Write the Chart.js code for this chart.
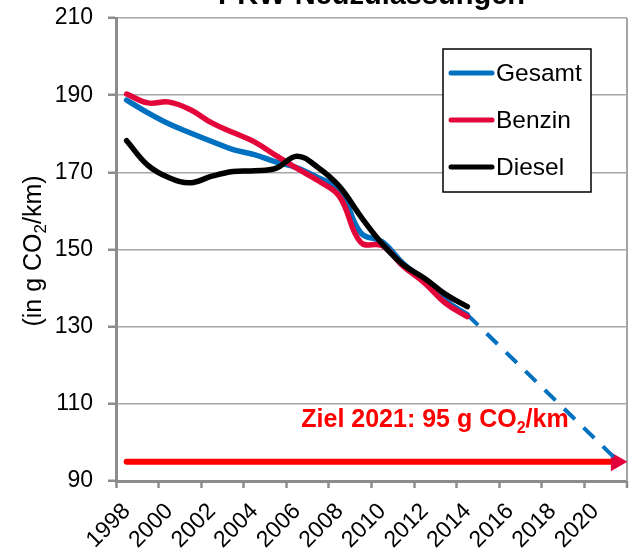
<!DOCTYPE html>
<html><head><meta charset="utf-8">
<script src="https://cdn.jsdelivr.net/npm/chart.js@4/dist/chart.umd.min.js"></script>
<style>html,body{margin:0;padding:0;background:#fff;} canvas{display:block;}</style>
</head><body>
<canvas id="c" width="638" height="549"></canvas>
<script>
// ---- data ----
const titleText = 'PKW-Neuzulassungen';
const yTitleParts = ['(in g CO', '2', '/km)'];
const annotationParts = ['Ziel 2021: 95 g CO', '2', '/km'];
const seriesLabels = ['Gesamt', 'Benzin', 'Diesel'];
const years = [1998,1999,2000,2001,2002,2003,2004,2005,2006,2007,2008,2009,2010,2011,2012,2013,2014];
const gesamt = [188.7,185.4,182.5,180.2,178.0,175.9,174.6,172.7,171.2,168.6,165.5,154.3,152.0,146.3,142.0,136.7,133.1];
const benzin = [190.3,188.0,188.2,186.2,182.8,180.3,177.9,174.4,171.0,167.8,163.7,151.8,151.0,145.6,141.3,136.0,132.6];
const diesel = [178.2,171.8,168.6,167.3,169.0,170.2,170.4,171.0,174.2,171.2,166.3,158.5,151.5,146.0,142.5,138.3,135.2];
const projYears = [2014, 2021.2];
const projValues = [133.1, 94.5];
const targetYears = [1998, 2021];
const targetValues = [95, 95];
const xTickLabels = ['1998','2000','2002','2004','2006','2008','2010','2012','2014','2016','2018','2020'];
const xMin = 1997.5, xMax = 2021.5;
const yMin = 90, yMax = 210, yStep = 20;
const annotationAt = {x: 2012.48, y: 104};

const FONT = '"Liberation Sans", Arial, sans-serif';
const BLUE = '#0070C0', RED = '#E3063B', BLACK = '#000000', TARGET = '#FF0000';
const AXIS = '#8C8C8C', GRID = '#A6A6A6';

const pts = (xs, ys) => xs.map((x, i) => ({x, y: ys[i]}));

function drawParts(ctx, parts, cx, cy, font, subFont, subDy) {
  ctx.font = font; const w0 = ctx.measureText(parts[0]).width; const w2 = ctx.measureText(parts[2]).width;
  ctx.font = subFont; const w1 = ctx.measureText(parts[1]).width;
  let x = cx - (w0 + w1 + w2) / 2;
  ctx.textAlign = 'left'; ctx.textBaseline = 'alphabetic';
  ctx.font = font; ctx.fillText(parts[0], x, cy); x += w0;
  ctx.font = subFont; ctx.fillText(parts[1], x, cy + subDy); x += w1;
  ctx.font = font; ctx.fillText(parts[2], x, cy);
}

const overlay = {
  id: 'overlay',
  beforeDatasetsDraw(chart) {
    const {ctx, chartArea: a, scales} = chart;
    ctx.save();
    ctx.strokeStyle = GRID; ctx.lineWidth = 2;
    ctx.beginPath(); ctx.moveTo(a.right, a.top); ctx.lineTo(a.right, a.bottom); ctx.stroke();
    // closing tick mark of the x axis at its maximum
    const xr = scales.x.getPixelForValue(xMax);
    ctx.strokeStyle = AXIS; ctx.lineWidth = 2.5;
    ctx.beginPath(); ctx.moveTo(xr, a.bottom); ctx.lineTo(xr, a.bottom + 7); ctx.stroke();
    ctx.restore();
  },
  afterDraw(chart) {
    const {ctx, chartArea: a, scales} = chart;
    ctx.save();
    // title
    ctx.fillStyle = '#000';
    ctx.font = 'bold 29px ' + FONT; ctx.textAlign = 'center'; ctx.textBaseline = 'alphabetic';
    ctx.fillText(titleText, (a.left + a.right) / 2, 4);
    // y title
    ctx.save();
    ctx.translate(33, 251); ctx.rotate(-Math.PI / 2);
    ctx.fillStyle = '#000';
    drawParts(ctx, yTitleParts, 0, 8, '25px ' + FONT, '17px ' + FONT, 5);
    ctx.restore();
    // annotation
    ctx.fillStyle = TARGET;
    drawParts(ctx, annotationParts, scales.x.getPixelForValue(annotationAt.x), scales.y.getPixelForValue(annotationAt.y),
      'bold 25px ' + FONT, 'bold 16px ' + FONT, 6);
    // legend
    const bx = a.right - 184, by = a.top + 31, bw = 148, bh = 143;
    ctx.fillStyle = '#fff'; ctx.fillRect(bx, by, bw, bh);
    ctx.strokeStyle = '#000'; ctx.lineWidth = 1.5; ctx.strokeRect(bx, by, bw, bh);
    ctx.font = '24.5px ' + FONT; ctx.textAlign = 'left'; ctx.textBaseline = 'middle';
    for (let i = 0; i < 3; i++) {
      const ds = chart.data.datasets[i];
      const ry = by + 24 + i * 47;
      ctx.strokeStyle = ds.borderColor; ctx.lineWidth = 5; ctx.lineCap = 'round';
      ctx.beginPath(); ctx.moveTo(bx + 8, ry); ctx.lineTo(bx + 49, ry); ctx.stroke();
      ctx.fillStyle = '#000'; ctx.fillText(ds.label, bx + 53, ry + 1);
    }
    ctx.restore();
  }
};

const lineDs = (label, ys, color, order) => ({
  label, data: pts(years, ys), borderColor: color, backgroundColor: color,
  borderWidth: 5.5, pointRadius: 0, tension: 0.4, order,
  borderCapStyle: 'round', borderJoinStyle: 'round', fill: false
});

new Chart(document.getElementById('c'), {
  type: 'line',
  data: {
    datasets: [
      lineDs(seriesLabels[0], gesamt, BLUE, 2),
      lineDs(seriesLabels[1], benzin, RED, 1),
      lineDs(seriesLabels[2], diesel, BLACK, 0),
      { label: 'Prognose', data: pts(projYears, projValues), borderColor: BLUE, borderWidth: 4,
        borderDash: [15, 12], pointRadius: 0, tension: 0, order: 3, fill: false },
      { label: 'Ziel', data: pts(targetYears, targetValues), borderColor: TARGET, borderWidth: 6,
        borderCapStyle: 'round', pointRadius: [0, 11], pointHoverRadius: 0, pointStyle: 'triangle', rotation: 90,
        pointBackgroundColor: '#E2003C', pointBorderWidth: 0, tension: 0, order: 4, fill: false }
    ]
  },
  options: {
    responsive: false, animation: false, devicePixelRatio: 1,
    layout: { padding: { top: 18, right: 4, left: 0, bottom: 0 } },
    plugins: { legend: { display: false }, tooltip: { enabled: false }, title: { display: false } },
    scales: {
      x: {
        type: 'linear', min: xMin, max: xMax,
        afterBuildTicks: (s) => { s.ticks = xTickLabels.map(l => ({value: +l - 0.5})); },
        afterFit: (s) => { s.height = 68; s.paddingLeft = 0; s.paddingRight = 0; s.paddingTop = 0; s.paddingBottom = 0; },
        grid: { drawOnChartArea: false, drawTicks: true, tickLength: 7, tickColor: AXIS, tickWidth: 2.5 },
        border: { display: true, color: AXIS, width: 3 },
        ticks: { autoSkip: false, minRotation: 45, maxRotation: 45, labelOffset: 10.8, padding: 10,
          color: '#000', font: { family: FONT, size: 23 },
          callback: (v, i) => xTickLabels[i] }
      },
      y: {
        min: yMin, max: yMax,
        afterFit: (s) => { s.width = 116; s.paddingLeft = 0; s.paddingRight = 0; s.paddingTop = 0; s.paddingBottom = 0; },
        grid: { color: GRID, lineWidth: 1.5, tickLength: 8, tickColor: AXIS, tickWidth: 2.5 },
        border: { display: true, color: AXIS, width: 3 },
        ticks: { stepSize: yStep, padding: 15, color: '#000', font: { family: FONT, size: 23 } }
      }
    }
  },
  plugins: [overlay]
});
</script>
</body></html>
